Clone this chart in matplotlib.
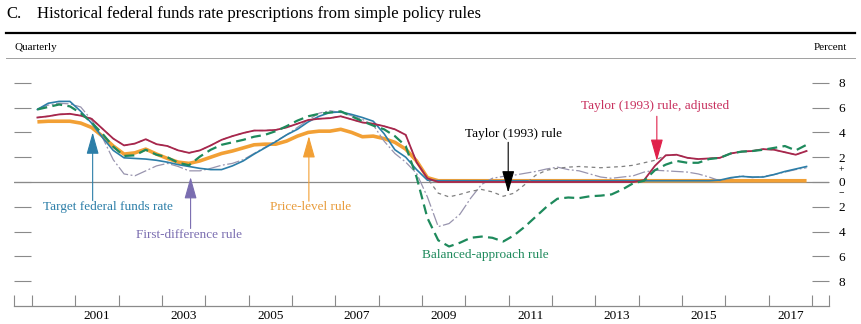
import numpy as np
import pandas as pd
import matplotlib
matplotlib.use("Agg")
import matplotlib.pyplot as plt
from matplotlib.lines import Line2D

plt.rcParams["font.family"] = ["Liberation Serif", "DejaVu Serif"]

# Quarterly observations, 2000:Q1 - 2017:Q4
quarters = pd.period_range("2000Q1", "2017Q4", freq="Q")

target_rate = [
    5.85, 6.35, 6.5, 6.5, 5.7, 4.75, 3.6, 2.55, 1.95, 1.9, 1.85, 1.75,
    1.6, 1.4, 1.25, 1.1, 1.0, 1.0, 1.3, 1.7, 2.25, 2.75, 3.25, 3.8,
    4.25, 4.85, 5.3, 5.6, 5.65, 5.45, 5.2, 4.9, 3.9, 2.6, 2.0, 1.0,
    0.15, 0.1, 0.1, 0.1, 0.1, 0.1, 0.1, 0.1, 0.1, 0.1, 0.1, 0.1,
    0.1, 0.1, 0.1, 0.1, 0.1, 0.1, 0.1, 0.1, 0.1, 0.1, 0.1, 0.1,
    0.1, 0.1, 0.1, 0.15, 0.35, 0.45, 0.4, 0.4, 0.6, 0.85, 1.05, 1.25,
]

taylor_adjusted = [
    5.2, 5.3, 5.45, 5.5, 5.35, 5.1, 4.3, 3.5, 2.95, 3.1, 3.45, 3.05,
    2.9, 2.55, 2.35, 2.55, 2.95, 3.4, 3.7, 3.95, 4.15, 4.15, 4.2, 4.4,
    4.7, 5.0, 5.1, 5.15, 5.3, 5.05, 4.8, 4.7, 4.5, 4.25, 3.8, 1.6,
    0.3, 0.0, 0.0, 0.0, 0.0, 0.0, 0.0, 0.0, 0.0, 0.0, 0.0, 0.0,
    0.0, 0.0, 0.0, 0.0, 0.0, 0.0, 0.0, 0.0, 0.15, 1.3, 2.15, 2.2,
    1.95, 1.85, 1.9, 1.95, 2.3, 2.45, 2.5, 2.65, 2.6, 2.4, 2.2, 2.5,
]

taylor_1993 = [
    5.2, 5.3, 5.45, 5.5, 5.35, 5.1, 4.3, 3.5, 2.95, 3.1, 3.45, 3.05,
    2.9, 2.55, 2.35, 2.55, 2.95, 3.4, 3.7, 3.95, 4.15, 4.15, 4.2, 4.4,
    4.7, 5.0, 5.1, 5.15, 5.3, 5.05, 4.8, 4.7, 4.5, 4.25, 3.8, 1.6,
    0.3, -0.9, -1.2, -1.0, -0.75, -0.6, -0.8, -1.15, -0.9, -0.2, 0.55, 0.95,
    1.1, 1.2, 1.25, 1.2, 1.15, 1.2, 1.25, 1.35, 1.55, 1.75, 2.15, 2.2,
    1.95, 1.85, 1.9, 1.95, 2.3, 2.45, 2.5, 2.65, 2.6, 2.4, 2.2, 2.5,
]

price_level = [
    4.85, 4.9, 4.9, 4.9, 4.75, 4.4, 3.7, 2.9, 2.25, 2.35, 2.65, 2.25,
    1.9, 1.6, 1.5, 1.7, 2.0, 2.3, 2.5, 2.75, 3.0, 3.05, 3.05, 3.3,
    3.7, 4.0, 4.1, 4.1, 4.25, 4.0, 3.65, 3.7, 3.5, 3.2, 2.65, 1.7,
    0.35, 0.1, 0.1, 0.1, 0.1, 0.1, 0.1, 0.1, 0.1, 0.1, 0.1, 0.1,
    0.1, 0.1, 0.1, 0.1, 0.1, 0.1, 0.1, 0.1, 0.1, 0.1, 0.1, 0.1,
    0.1, 0.1, 0.1, 0.1, 0.1, 0.1, 0.1, 0.1, 0.1, 0.1, 0.1, 0.1,
]

balanced_approach = [
    5.85, 6.05, 6.25, 6.1, 5.55, 4.8, 3.9, 2.85, 2.1, 2.15, 2.6, 2.2,
    2.0, 1.55, 1.35, 2.05, 2.6, 3.0, 3.2, 3.4, 3.65, 3.8, 4.1, 4.5,
    4.95, 5.3, 5.5, 5.6, 5.7, 5.3, 4.9, 4.55, 4.25, 3.7, 2.9, 0.4,
    -2.9, -4.7, -5.2, -4.9, -4.5, -4.4, -4.5, -4.8, -4.3, -3.6, -2.8, -2.0,
    -1.35, -1.25, -1.3, -1.15, -1.1, -1.0, -0.6, -0.1, 0.1, 0.95, 1.4, 1.7,
    1.55, 1.55, 1.85, 1.95, 2.3, 2.45, 2.5, 2.6, 2.75, 2.9, 2.55, 3.0,
]

first_difference = [
    5.9, 6.2, 6.35, 6.3, 6.05, 5.0, 3.6, 1.8, 0.65, 0.5, 0.9, 1.3,
    1.5, 1.25, 0.9, 0.9, 1.1, 1.35, 1.5, 1.8, 2.3, 2.8, 3.3, 3.8,
    4.4, 5.0, 5.55, 5.75, 5.6, 5.35, 5.05, 4.6, 3.3, 2.3, 1.6, 0.7,
    -1.2, -3.6, -3.35, -2.6, -1.3, -0.2, 0.3, 0.45, 0.55, 0.7, 0.85, 1.05,
    1.2, 1.0, 0.9, 0.65, 0.4, 0.3, 0.4, 0.5, 0.8, 0.95, 0.9, 0.85,
    0.8, 0.65, 0.4, 0.1, 0.3, 0.5, 0.35, 0.45, 0.6, 0.8, 1.0, 1.15,
]

year_labels = ["2001", "2003", "2005", "2007", "2009", "2011", "2013", "2015", "2017"]
y_ticks = [-8, -6, -4, -2, 0, 2, 4, 6, 8]

# Colours
C_BLUE = "#2c7ea8"
C_RED = "#a8264c"
C_ORANGE = "#f2a035"
C_GREEN = "#1e8a5c"
C_GRAY_T = "#808080"
C_GRAY_FD = "#9894ae"
C_PURPLE = "#7a6db0"
C_AXIS = "#8a8a8a"

# Decimal-year position of each quarter (mid-quarter)
x = quarters.year + (quarters.quarter - 0.5) / 4.0

W, H = 861, 324
fig = plt.figure(figsize=(W / 100, H / 100), dpi=100)


def fx(px):
    return px / W


def fy(py):
    return 1 - py / H


ax = fig.add_axes([fx(14), fy(306), fx(829.3) - fx(14), fy(58) - fy(306)])
x0, x1 = 1999.585, 2018.4
ax.set_xlim(x0, x1)
ax.set_ylim(-10, 10)

for s in ["top", "left", "right"]:
    ax.spines[s].set_visible(False)
ax.spines["bottom"].set_color(C_AXIS)
ax.spines["bottom"].set_linewidth(0.9)

# zero line
ax.axhline(0, color=C_AXIS, lw=0.9, zorder=1)

# Series
ax.plot(x, price_level, color=C_ORANGE, lw=2.6, zorder=2, solid_capstyle="butt")
ax.plot(x, first_difference, color=C_GRAY_FD, lw=0.9, zorder=3,
        linestyle=(0, (10, 2, 1.5, 2)))
ax.plot(x, target_rate, color=C_BLUE, lw=1.2, zorder=4)
ax.plot(x, taylor_1993, color=C_GRAY_T, lw=0.9, zorder=5, linestyle=(0, (3, 3)))
ax.plot(x, taylor_adjusted, color=C_RED, lw=1.3, zorder=6)
ax.plot(x, balanced_approach, color=C_GREEN, lw=1.6, zorder=7,
        linestyle=(0, (4.5, 2.4)))

# X ticks: year boundaries plus axis edges; labels centred on odd years
years = np.arange(2000, 2019)
ax.set_xticks(list(years) + [x0, x1])
ax.tick_params(axis="x", which="major", direction="in", length=8, width=0.8,
               color=C_AXIS, labelbottom=False)
label_pos = [int(y) + 0.5 for y in year_labels]
ax.set_xticks(label_pos, minor=True)
ax.set_xticklabels(year_labels, minor=True)
ax.tick_params(axis="x", which="minor", length=0, pad=3, labelsize=9.5)

# Y ticks on both sides, labels on the right only
ax.set_yticks(y_ticks)
ax.set_yticklabels([str(abs(v)) for v in y_ticks])
ax.tick_params(axis="y", which="major", direction="in", length=12, width=0.8,
               color=C_AXIS, left=True, right=True, labelleft=False,
               labelright=True, pad=6.5, labelsize=9.5)
sign_x = 1.0 + 12.3 / (829.3 - 14)
ax.text(sign_x, 1.02, "+", transform=ax.get_yaxis_transform(),
        ha="center", va="center", fontsize=7)
ax.text(sign_x, -0.95, "\u2212", transform=ax.get_yaxis_transform(),
        ha="center", va="center", fontsize=7)

# Header
fig.text(fx(6), fy(14), "C.", fontsize=12, ha="left", va="center")
fig.text(fx(37), fy(14), "Historical federal funds rate prescriptions from simple policy rules",
         fontsize=12, ha="left", va="center")
fig.add_artist(Line2D([fx(6), fx(855)], [fy(33), fy(33)], color="black", lw=1.6))
fig.add_artist(Line2D([fx(6), fx(855)], [fy(58), fy(58)], color="#a0a0a0", lw=0.7))
fig.text(fx(14), fy(47), "Quarterly", fontsize=8, ha="left", va="center")
fig.text(fx(847), fy(47), "Percent", fontsize=8, ha="right", va="center")


def pointer(t, tip, tail, color):
    ax.annotate("", xy=(t, tip), xytext=(t, tail),
                arrowprops=dict(arrowstyle="-|>,head_length=1.35,head_width=0.38",
                                color=color, lw=0.8, shrinkA=0, shrinkB=0),
                zorder=9)


# Annotations
pointer(2001.40, 4.0, -1.5, C_BLUE)
ax.text(2001.75, -2.05, "Target federal funds rate", color=C_BLUE, fontsize=9.5,
        ha="center", va="center")

pointer(2003.66, 0.4, -3.75, C_PURPLE)
ax.text(2003.62, -4.3, "First-difference rule", color=C_PURPLE, fontsize=9.5,
        ha="center", va="center")

pointer(2006.39, 3.7, -1.55, C_ORANGE)
ax.text(2006.42, -2.05, "Price-level rule", color="#e89c3c", fontsize=9.5,
        ha="center", va="center")

pointer(2010.99, -0.85, 3.2, "black")
ax.text(2011.12, 3.85, "Taylor (1993) rule", color="black", fontsize=9.5,
        ha="center", va="center")

pointer(2014.42, 1.7, 5.3, "#e0204a")
ax.text(2014.37, 6.15, "Taylor (1993) rule, adjusted", color="#c8305e", fontsize=9.5,
        ha="center", va="center")

ax.text(2010.46, -5.9, "Balanced-approach rule", color=C_GREEN, fontsize=9.5,
        ha="center", va="center")

fig.savefig("out.png", dpi=100)
